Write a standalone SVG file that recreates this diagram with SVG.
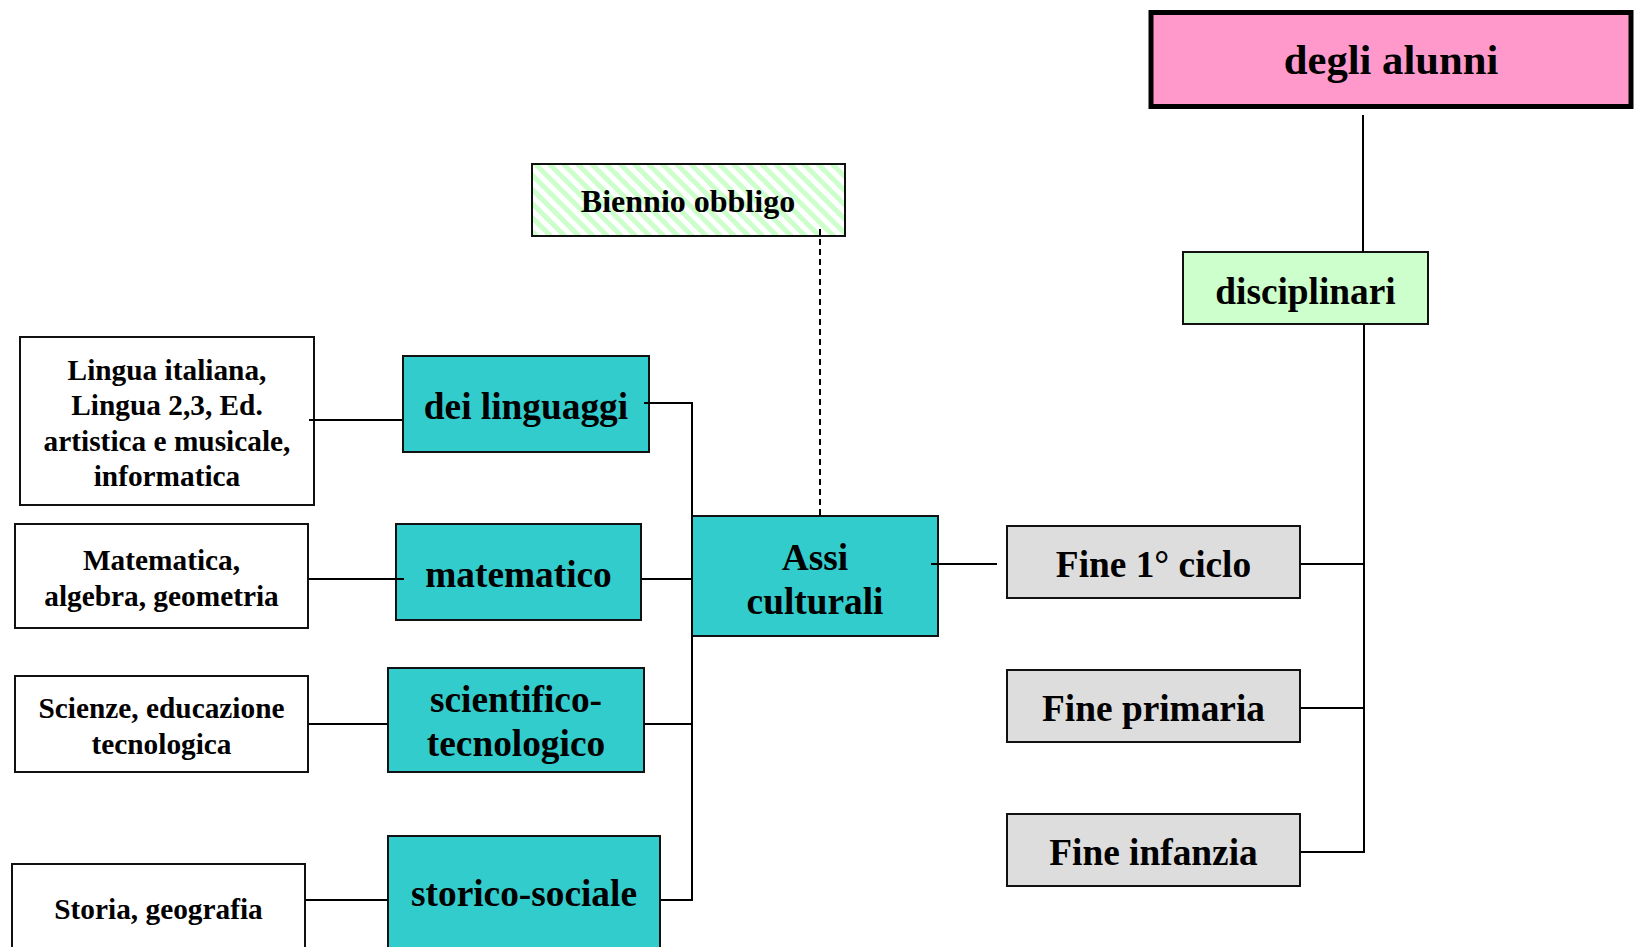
<svg xmlns="http://www.w3.org/2000/svg" width="1634" height="947" viewBox="0 0 1634 947">
<style>
text{font-family:"Liberation Serif","Times New Roman",serif;font-weight:bold;fill:#000;text-anchor:middle}
.big{font-size:37.33px}
.leaf{font-size:29.33px}
.box{stroke:#111;stroke-width:2}
.teal{fill:#33CCCC}
.gray{fill:#DDDDDD}
.white{fill:#FFFFFF}
.ln{stroke:#000;stroke-width:2;fill:none}
</style>
<defs>
<pattern id="hatch" width="10" height="10" patternUnits="userSpaceOnUse" patternTransform="rotate(-45)">
<rect width="10" height="10" fill="#FFFFFF"/>
<rect width="5" height="10" fill="#CCFFCC"/>
</pattern>
</defs>
<rect width="1634" height="947" fill="#FFFFFF"/>
<g id="degli-alunni">
<rect x="1151" y="12.5" width="480" height="94" fill="#FF99CC" stroke="#000" stroke-width="5"/>
<text x="1391" y="74" style="font-size:42.67px">degli alunni</text>
</g>
<g id="disciplinari">
<rect class="box" x="1183" y="252" width="245" height="72" fill="#CCFFCC"/>
<text class="big" x="1305.5" y="303.5">disciplinari</text>
</g>
<g id="biennio">
<rect class="box" x="532" y="164" width="313" height="72" fill="url(#hatch)"/>
<text x="688" y="212" style="font-size:32px">Biennio obbligo</text>
</g>
<g id="fine-ciclo">
<rect class="box gray" x="1007" y="526" width="293" height="72"/>
<text class="big" x="1153.5" y="576.5">Fine 1° ciclo</text>
</g>
<g id="fine-primaria">
<rect class="box gray" x="1007" y="670" width="293" height="72"/>
<text class="big" x="1153.5" y="720.5">Fine primaria</text>
</g>
<g id="fine-infanzia">
<rect class="box gray" x="1007" y="814" width="293" height="72"/>
<text class="big" x="1153.5" y="864.5">Fine infanzia</text>
</g>
<g id="assi">
<rect class="box teal" x="692" y="516" width="246" height="120"/>
<text class="big" x="815" y="569.5">Assi</text>
<text class="big" x="815" y="613.5">culturali</text>
</g>
<g id="linguaggi">
<rect class="box teal" x="403" y="356" width="246" height="96"/>
<text class="big" x="526" y="419">dei linguaggi</text>
</g>
<g id="matematico">
<rect class="box teal" x="396" y="524" width="245" height="96"/>
<text class="big" x="518.5" y="586.5">matematico</text>
</g>
<g id="scientifico">
<rect class="box teal" x="388" y="668" width="256" height="104"/>
<text class="big" x="516" y="711.5">scientifico-</text>
<text class="big" x="516" y="755.5">tecnologico</text>
</g>
<g id="storico">
<rect class="box teal" x="388" y="836" width="272" height="120"/>
<text class="big" x="524" y="905.5">storico-sociale</text>
</g>
<g id="lingua-box">
<rect class="box white" x="20" y="337" width="294" height="168"/>
<text class="leaf" x="167" y="380">Lingua italiana,</text>
<text class="leaf" x="167" y="415">Lingua 2,3, Ed.</text>
<text class="leaf" x="167" y="450.5">artistica e musicale,</text>
<text class="leaf" x="167" y="486">informatica</text>
</g>
<g id="matematica-box">
<rect class="box white" x="15" y="524" width="293" height="104"/>
<text class="leaf" x="161.5" y="570">Matematica,</text>
<text class="leaf" x="161.5" y="605.5">algebra, geometria</text>
</g>
<g id="scienze-box">
<rect class="box white" x="15" y="676" width="293" height="96"/>
<text class="leaf" x="161.5" y="718">Scienze, educazione</text>
<text class="leaf" x="161.5" y="753.5">tecnologica</text>
</g>
<g id="storia-box">
<rect class="box white" x="12" y="864" width="293" height="92"/>
<text class="leaf" x="158.5" y="918.5">Storia, geografia</text>
</g>
<g id="connectors">
<line class="ln" x1="1363" y1="115" x2="1363" y2="252"/>
<line class="ln" x1="1364" y1="325" x2="1364" y2="853"/>
<line class="ln" x1="1301" y1="564" x2="1364" y2="564"/>
<line class="ln" x1="1301" y1="708" x2="1364" y2="708"/>
<line class="ln" x1="1301" y1="852" x2="1364" y2="852"/>
<line class="ln" x1="931" y1="564" x2="997" y2="564"/>
<line class="ln" x1="820" y1="229" x2="820" y2="515" stroke-dasharray="6,4"/>
<line class="ln" x1="692" y1="402" x2="692" y2="901"/>
<line class="ln" x1="644" y1="403" x2="692" y2="403"/>
<line class="ln" x1="642" y1="579" x2="692" y2="579"/>
<line class="ln" x1="645" y1="724" x2="692" y2="724"/>
<line class="ln" x1="661" y1="900" x2="692" y2="900"/>
<line class="ln" x1="309" y1="420" x2="402" y2="420"/>
<line class="ln" x1="309" y1="579" x2="404" y2="579"/>
<line class="ln" x1="309" y1="724" x2="387" y2="724"/>
<line class="ln" x1="306" y1="900" x2="387" y2="900"/>
</g>
</svg>
